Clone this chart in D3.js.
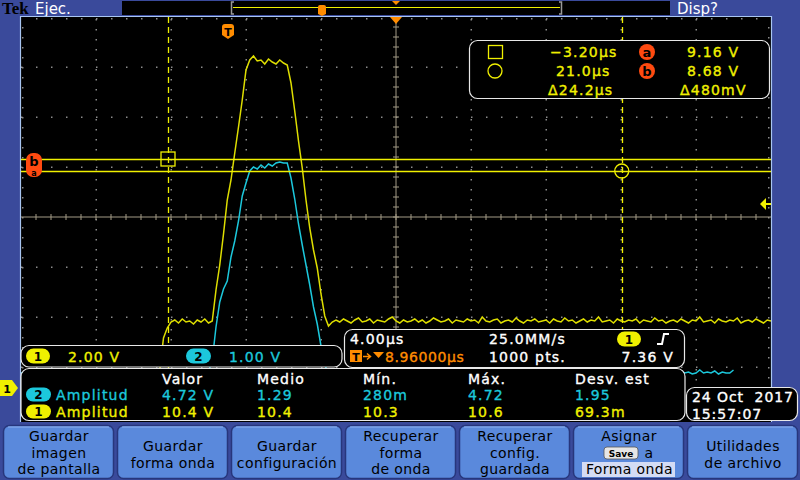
<!DOCTYPE html>
<html><head><meta charset="utf-8">
<script src="https://cdn.jsdelivr.net/npm/d3@7"></script>
<style>html,body{margin:0;padding:0;background:#3a4a9b;}svg{display:block;}</style>
</head><body><svg id="c" width="800" height="480"></svg>
<script>
// ---- instrument settings ----
const timePerDiv = 4.0;          // µs/div
const horizDelay = 8.96;         // µs from trigger to screen centre
const ch1VoltsPerDiv = 2.0;
const ch2VoltsPerDiv = 1.0;
const triggerLevel = 7.36;       // V (ch1)
const sampleStep = 0.2;          // µs between plotted samples
const cursorTimes = [-3.20, 21.0];   // µs (square, circle)
const cursorVolts = [9.16, 8.68];    // V (a, b)

// ---- waveform samples (V), one every sampleStep starting at left edge ----
const ch1Volts = [
0.08,0.12,0.04,0.08,0.16,0.08,0.04,0.12,0.08,0.08,
0.12,0.04,0.08,0.12,0.08,0.16,0.04,0.08,0.12,0.08,
0.04,0.12,0.08,0.08,0.16,0.08,0.04,0.12,0.08,0.12,
0.08,0.04,0.12,0.08,0.16,0.08,0.12,
0.72,2.0,2.4,2.64,
2.72,2.6,2.76,2.64,2.68,2.56,2.72,2.64,2.76,2.6,2.68,
3.92,4.92,6.16,7.52,8.32,9.4,10.44,11.52,12.72,13.12,
13.28,13.08,13.12,12.96,13.16,13.04,12.96,13.12,13.0,
12.92,12.2,11.08,9.88,8.8,7.52,6.4,5.52,4.8,3.76,2.88,2.48,2.64,
2.72,2.64,2.76,2.68,2.6,2.72,2.8,2.64,2.68,2.76,
2.6,2.72,2.68,2.64,2.76,2.84,2.68,2.6,2.72,2.64,
2.68,2.76,2.64,2.72,2.6,2.68,2.8,2.72,2.64,2.68,
2.76,2.6,2.72,2.68,2.64,2.76,2.68,2.72,2.6,2.84,
2.68,2.64,2.72,2.76,2.6,2.68,2.72,2.64,2.8,2.68,
2.6,2.72,2.68,2.76,2.64,2.68,2.72,2.6,2.76,2.68,
2.64,2.8,2.68,2.72,2.6,2.68,2.76,2.64,2.72,2.68,
2.84,2.64,2.68,2.72,2.6,2.76,2.68,2.64,2.72,2.68,
2.76,2.6,2.72,2.68,2.64,2.8,2.68,2.72,2.6,2.68,
2.72,2.64,2.76,2.68,2.6,2.72,2.68,2.84,2.64,2.68,
2.72,2.6,2.76,2.68,2.64,2.72,2.68,2.8,2.6,2.68,
2.72,2.64,2.76,2.68,2.6,2.72,2.68
];
const ch2Volts = [
0.3,0.32,0.28,0.3,0.34,0.3,0.28,0.32,0.3,0.3,
0.34,0.28,0.3,0.32,0.3,0.36,0.28,0.3,0.32,0.3,
0.28,0.32,0.3,0.34,0.3,0.28,0.32,0.3,0.3,0.34,
0.3,0.28,0.32,0.3,0.36,0.3,0.28,0.32,0.3,0.34,
0.3,0.28,0.32,0.3,0.3,0.34,0.28,0.32,0.3,0.3,0.32,
0.56,1.22,1.72,1.98,2.14,2.62,2.94,3.34,3.84,4.1,4.34,4.42,
4.38,4.46,4.4,4.48,4.44,4.5,4.52,4.5,
4.5,4.2,3.78,3.28,2.86,2.46,2.06,1.62,1.28,0.84,0.46,
0.3,0.32,0.28,0.34,0.3,0.32,0.36,0.3,0.28,0.32,
0.3,0.34,0.3,0.28,0.32,0.3,0.36,0.32,0.3,0.28,
0.32,0.3,0.34,0.3,0.32,0.28,0.3,0.36,0.3,0.32,
0.28,0.3,0.32,0.34,0.3,0.3,0.28,0.32,0.36,0.3,
0.32,0.3,0.28,0.34,0.3,0.32,0.3,0.36,0.28,0.3,
0.34,0.3,0.32,0.28,0.3,0.32,0.36,0.3,0.3,0.34,
0.28,0.32,0.3,0.3,0.36,0.32,0.28,0.3,0.34,0.3,
0.32,0.3,0.28,0.36,0.3,0.32,0.34,0.3,0.28,0.32,
0.3,0.36,0.3,0.32,0.28,0.34,0.3,0.3,0.32,0.36,
0.3,0.28,0.32,0.3,0.34,0.3,0.32,0.28,0.3,0.36,
0.3,0.32,0.3,0.34,0.28,0.32,0.3,0.3,0.36
];

// ---- readout texts ----
const cursorTimeLabels = ["\u22123.20\u00b5s", "21.0\u00b5s", "\u039424.2\u00b5s"];
const cursorVoltLabels = ["9.16 V", "8.68 V", "\u0394480mV"];
const measHeaders = ["Valor", "Medio", "M\u00edn.", "M\u00e1x.", "Desv. est"];
const measCh2 = ["4.72 V", "1.29", "280m", "4.72", "1.95"];
const measCh1 = ["10.4 V", "10.4", "10.3", "10.6", "69.3m"];
const buttonLabels = [
  ["Guardar","imagen","de pantalla"],
  ["Guardar","forma onda"],
  ["Guardar","configuraci\u00f3n"],
  ["Recuperar","forma","de onda"],
  ["Recuperar","config.","guardada"],
  ["Asignar","SAVE a","Forma onda"],
  ["Utilidades","de archivo"]
];

// ---- layout ----
const svg = d3.select("#c");
const FONT = "DejaVu Sans";
const YEL = "#f0f000", TRC1 = "#dede00", CYN = "#1cc8dc", ORG = "#ff8c00", RED = "#ff4a10";
const plot = {x0:21, x1:771, y0:17, y1:417};
const tLeft = horizDelay - 5*timePerDiv, tRight = horizDelay + 5*timePerDiv;
const x = d3.scaleLinear().domain([tLeft, tRight]).range([plot.x0, plot.x1]);
const gndDiv = -3.42;
const y1 = d3.scaleLinear().domain([(-4-gndDiv)*ch1VoltsPerDiv, (4-gndDiv)*ch1VoltsPerDiv]).range([plot.y1, plot.y0]);
const y2 = d3.scaleLinear().domain([(-4-gndDiv)*ch2VoltsPerDiv, (4-gndDiv)*ch2VoltsPerDiv]).range([plot.y1, plot.y0]);
const yDiv = d3.scaleLinear().domain([-4,4]).range([plot.y1, plot.y0]);

// frame
svg.append("rect").attr("width",800).attr("height",480).attr("fill","#3a4a9b");
svg.append("rect").attr("x",20).attr("y",16).attr("width",752).attr("height",406).attr("fill","#000");

// grid dots
const g = svg.append("g");
const vLines = d3.range(1,10).map(k => x(tLeft + k*timePerDiv));
const hLines = d3.range(-3,4).map(k => yDiv(k));
vLines.forEach(vx => {
  if (Math.abs(vx-396)<1) return;
  d3.range(plot.y0+2, plot.y1, 10).forEach(yy => g.append("rect").attr("x",vx-0.5).attr("y",yy).attr("width",1.5).attr("height",1.5).attr("fill","#8c8c8c"));
});
hLines.forEach(hy => {
  if (Math.abs(hy-217)<1) return;
  d3.range(plot.x0+0, plot.x1, 15).forEach(xx => g.append("rect").attr("x",xx).attr("y",hy-0.5).attr("width",1.5).attr("height",1.5).attr("fill","#8c8c8c"));
});
d3.range(plot.x0+15, plot.x1, 15).forEach(xx => g.append("rect").attr("x",xx).attr("y",18).attr("width",1.5).attr("height",1.5).attr("fill","#8c8c8c"));
d3.range(plot.y0+10, plot.y1, 10).forEach(yy => {
  g.append("rect").attr("x",22).attr("y",yy).attr("width",1.5).attr("height",1.5).attr("fill","#8c8c8c");
  g.append("rect").attr("x",768).attr("y",yy).attr("width",1.5).attr("height",1.5).attr("fill","#8c8c8c");
});
const cx = x(horizDelay), cy = yDiv(0);
g.append("line").attr("x1",plot.x0).attr("x2",plot.x1).attr("y1",cy).attr("y2",cy).attr("stroke","#a39b86").attr("stroke-width",1);
g.append("line").attr("x1",cx).attr("x2",cx).attr("y1",plot.y0).attr("y2",plot.y1).attr("stroke","#a39b86").attr("stroke-width",1);
d3.range(plot.x0+15, plot.x1, 15).forEach(xx => g.append("line").attr("x1",xx).attr("x2",xx).attr("y1",cy-3).attr("y2",cy+3).attr("stroke","#a39b86"));
d3.range(plot.y0+10, plot.y1, 10).forEach(yy => g.append("line").attr("x1",cx-3).attr("x2",cx+3).attr("y1",yy).attr("y2",yy).attr("stroke","#a39b86"));

// traces
svg.append("clipPath").attr("id","pc").append("rect").attr("x",plot.x0).attr("y",plot.y0).attr("width",plot.x1-plot.x0).attr("height",plot.y1-plot.y0);
const tr = svg.append("g").attr("clip-path","url(#pc)");
const lineFor = ys => d3.line().x((d,i)=>x(tLeft + i*sampleStep)).y(d=>ys(d)).curve(d3.curveLinear);
tr.append("path").datum(ch2Volts).attr("d",lineFor(y2)).attr("fill","none").attr("stroke",CYN).attr("stroke-width",1.5);
tr.append("path").datum(ch1Volts).attr("d",lineFor(y1)).attr("fill","none").attr("stroke",TRC1).attr("stroke-width",1.5);

// cursors
cursorVolts.forEach(v => tr.append("line").attr("x1",plot.x0).attr("x2",plot.x1).attr("y1",Math.round(y1(v))+0.5).attr("y2",Math.round(y1(v))+0.5).attr("stroke",YEL).attr("stroke-width",1.5));
cursorTimes.forEach(t => tr.append("line").attr("x1",Math.round(x(t))+0.5).attr("x2",Math.round(x(t))+0.5).attr("y1",plot.y0).attr("y2",plot.y1).attr("stroke",YEL).attr("stroke-width",1.3).attr("stroke-dasharray","6,4"));
tr.append("rect").attr("x",x(cursorTimes[0])-7).attr("y",y1(cursorVolts[0])-7).attr("width",14).attr("height",14).attr("fill","none").attr("stroke",YEL).attr("stroke-width",1.3);
tr.append("circle").attr("cx",x(cursorTimes[1])).attr("cy",y1(cursorVolts[1])).attr("r",7).attr("fill","none").attr("stroke",YEL).attr("stroke-width",1.3);

// helpers
function txt(sel, xx, yy, s, col, opt={}) {
  const t = sel.append("text").attr("x",xx).attr("y",yy).attr("font-family",FONT).attr("font-size",opt.size||14)
    .attr("font-weight",opt.weight||"normal").attr("text-anchor",opt.anchor||"start").attr("fill",col).text(s);
  if (opt.ls !== undefined) t.attr("letter-spacing", opt.ls);
  if (opt.thick) t.attr("stroke", col).attr("stroke-width", 0.35);
  return t;
}
const R = {ls:1.2, thick:true};
function ro(sel, xx, yy, s, col, extra={}) { return txt(sel, xx, yy, s, col, Object.assign({}, R, extra)); }
function pill(xx, yy, w, h, col, label) {
  svg.append("rect").attr("x",xx).attr("y",yy).attr("width",w).attr("height",h).attr("rx",h/2).attr("fill",col);
  txt(svg, xx+w/2, yy+h-2.5, label, "#000", {anchor:"middle", size:12, weight:"bold"});
}
function box(xx, yy, w, h) {
  svg.append("rect").attr("x",xx).attr("y",yy).attr("width",w).attr("height",h).attr("rx",8).attr("fill","#000").attr("stroke","#e8e8e8").attr("stroke-width",1.2);
}

// a/b cursor marker at left
svg.append("rect").attr("x",26).attr("y",153).attr("width",16).attr("height",24).attr("rx",7).attr("fill",RED);
txt(svg, 34, 166, "b", "#000", {anchor:"middle", size:13, weight:"bold"});
txt(svg, 34, 175.5, "a", "#000", {anchor:"middle", size:8, weight:"bold"});
// trigger point marker T
const tx = x(0);
svg.append("path").attr("d",`M${tx-6},27 Q${tx-6},24 ${tx-3},24 L${tx+3},24 Q${tx+6},24 ${tx+6},27 L${tx+6},35 L${tx},39 L${tx-6},35 Z`).attr("fill",ORG);
txt(svg, tx, 35.5, "T", "#000", {anchor:"middle", size:11, weight:"bold"});
svg.append("path").attr("d",`M${cx-6},17 L${cx+6},17 L${cx},24 Z`).attr("fill",ORG);
const tly = y1(triggerLevel);
svg.append("path").attr("d",`M760,${tly} L766,${tly-6} L766,${tly-1} L771,${tly-1} L771,${tly+1} L766,${tly+1} L766,${tly+6} Z`).attr("fill",YEL);

// top bar
txt(svg, 2, 14, "Tek", "#000", {size:17, weight:"bold"}).attr("font-family","Liberation Serif");
txt(svg, 35, 13.5, "Ejec.", "#fff", {size:15});
svg.append("rect").attr("x",122).attr("y",1).attr("width",548).attr("height",14).attr("fill","#000");
svg.append("path").attr("d","M234,2 L231.5,2 L231.5,14 L234,14").attr("fill","none").attr("stroke","#9a9a9a").attr("stroke-width",1.5);
svg.append("path").attr("d","M559,2 L561.5,2 L561.5,14 L559,14").attr("fill","none").attr("stroke","#9a9a9a").attr("stroke-width",1.5);
svg.append("line").attr("x1",233).attr("x2",560).attr("y1",7.5).attr("y2",7.5).attr("stroke",YEL).attr("stroke-width",1);
svg.append("path").attr("d","M318,7 Q318,5 320,5 L324,5 Q326,5 326,7 L326,14 L322,16 L318,14 Z").attr("fill",ORG);
svg.append("path").attr("d",`M${cx-4},1 L${cx+4},1 L${cx},5 Z`).attr("fill",ORG);
txt(svg, 677, 13.5, "Disp?", "#fff", {size:15});

// graticule border
svg.append("path").attr("d","M20.5,422 L20.5,16.5 L771.5,16.5 L771.5,422").attr("fill","none").attr("stroke","#a9c6f2").attr("stroke-width",1.2);

// cursor readout
box(469.5, 40.5, 300, 58);
svg.append("rect").attr("x",488.5).attr("y",45.5).attr("width",14).attr("height",13).attr("fill","none").attr("stroke",YEL).attr("stroke-width",1.3);
svg.append("circle").attr("cx",495).attr("cy",71).attr("r",7).attr("fill","none").attr("stroke",YEL).attr("stroke-width",1.3);
[[550,57],[556,76],[548,95]].forEach((p,i)=>ro(svg,p[0],p[1],cursorTimeLabels[i],YEL));
[["a",52],["b",71]].forEach(p=>{
  svg.append("circle").attr("cx",647).attr("cy",p[1]).attr("r",8).attr("fill",RED);
  txt(svg,647,p[1]+4.5,p[0],"#000",{anchor:"middle",size:13,weight:"bold"});
});
[[687,57],[687,76],[680,95]].forEach((p,i)=>ro(svg,p[0],p[1],cursorVoltLabels[i],YEL));

// channel readout
box(21, 345.5, 321, 21.5);
pill(26, 348.5, 24, 15, YEL, "1");
ro(svg, 68, 362, ch1VoltsPerDiv.toFixed(2)+" V", YEL);
pill(186, 348.5, 25, 15, CYN, "2");
ro(svg, 229, 362, ch2VoltsPerDiv.toFixed(2)+" V", CYN);

// timebase readout
box(344.5, 329.5, 340, 38);
ro(svg, 350, 344, timePerDiv.toFixed(2)+"\u00b5s", "#fff");
svg.append("rect").attr("x",350).attr("y",350).attr("width",12).attr("height",12).attr("fill",ORG);
txt(svg, 356, 360.5, "T", "#000", {anchor:"middle", size:11, weight:"bold"});
svg.append("path").attr("d","M363,356.5 L370,356.5 M367,353.5 L370.5,356.5 L367,359.5").attr("fill","none").attr("stroke",ORG).attr("stroke-width",1.5);
svg.append("path").attr("d","M373,352 L384,352 L378.5,358 Z").attr("fill",ORG);
ro(svg, 385, 361.5, horizDelay.toFixed(5)+"\u00b5s", ORG, {ls:0.6});
ro(svg, 489, 344, "25.0MM/s", "#fff");
ro(svg, 489, 361.5, "1000 pts.", "#fff");
pill(617, 331.5, 24, 15, YEL, "1");
svg.append("path").attr("d","M657,344 L662,344 L664,334 L669,334").attr("fill","none").attr("stroke","#fff").attr("stroke-width",2);
ro(svg, 674, 361.5, triggerLevel.toFixed(2)+" V", "#fff", {anchor:"end"});

// measurement table
box(21, 368.5, 664, 52);
const colX = [162, 257, 363, 468, 575];
measHeaders.forEach((h,i)=>ro(svg,colX[i],383.5,h,"#fff"));
pill(26, 387.5, 25, 14, CYN, "2");
ro(svg, 56, 400, "Amplitud", CYN);
measCh2.forEach((v,i)=>ro(svg,colX[i],400,v,CYN));
pill(26, 404.5, 25, 14, YEL, "1");
ro(svg, 56, 417, "Amplitud", YEL);
measCh1.forEach((v,i)=>ro(svg,colX[i],417,v,YEL));

// ch1 ground marker
svg.append("path").attr("d","M0,380 L12,380 L18,388 L12,396 L0,396 Z").attr("fill",YEL);
txt(svg, 7, 392.5, "1", "#000", {anchor:"middle", size:11, weight:"bold"});

// date box
box(686.5, 387.5, 111, 33);
ro(svg, 692, 402, "24 Oct\u00a0\u00a02017", "#fff", {ls:0.9});
ro(svg, 692, 419, "15:57:07", "#fff", {ls:0.9});

// buttons
const bx = [3, 117, 231, 345, 459, 573, 687];
const bb = svg.append("g");
buttonLabels.forEach((lines,i)=>{
  bb.append("rect").attr("x",bx[i]+0.5).attr("y",425.5).attr("width",110).attr("height",53).attr("rx",6)
    .attr("fill","#5a89dc").attr("stroke","#27367c").attr("stroke-width",1.5);
  bb.append("path").attr("d",`M${bx[i]+5},427 L${bx[i]+106},427`).attr("stroke","#8db0ee").attr("stroke-width",1);
  const mid = bx[i]+56;
  const base = lines.length===3 ? [441,457.5,474] : [451,467.5];
  lines.forEach((l,j)=>{
    if (l==="SAVE a") {
      bb.append("rect").attr("x",604).attr("y",447).attr("width",34).attr("height",12).attr("rx",3).attr("fill","#e6e6e6").attr("stroke","#555").attr("stroke-width",0.8);
      txt(bb, 621, 456.5, "Save", "#000", {anchor:"middle", size:9, weight:"bold"});
      txt(bb, 649, 457.5, "a", "#000", {anchor:"middle", size:14, ls:0.4});
    } else if (i===5 && j===2) {
      bb.append("rect").attr("x",582).attr("y",462).attr("width",93).attr("height",15).attr("fill","#d4dcf4");
      txt(bb, mid+0.5, 474, l, "#000", {anchor:"middle", size:14, ls:0.4});
    } else {
      txt(bb, mid, base[j], l, "#000", {anchor:"middle", size:14, ls:0.4});
    }
  });
});
</script></body></html>
